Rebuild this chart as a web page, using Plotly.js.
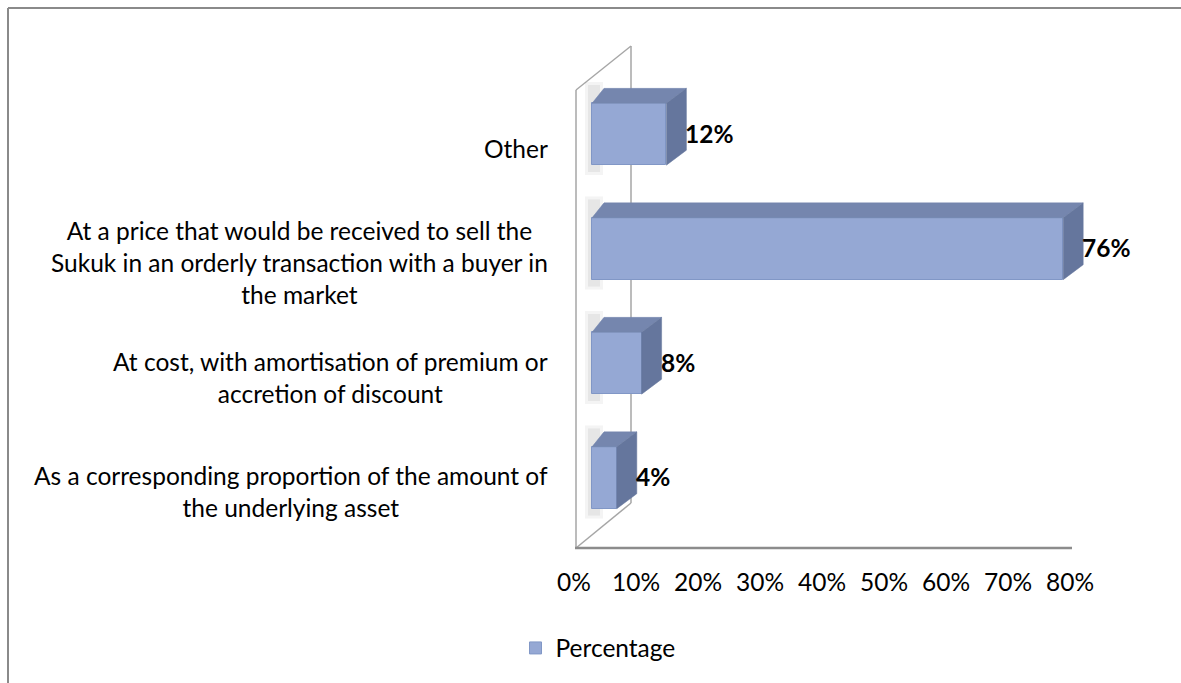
<!DOCTYPE html>
<html>
<head>
<meta charset="utf-8">
<script src="https://cdn.plot.ly/plotly-3.0.1.min.js"></script>
<style>
  html, body { margin: 0; padding: 0; background: #ffffff; }
  #chart { width: 1181px; height: 683px; }
</style>
</head>
<body>
<div id="chart"></div>
<script>
// ---- data (bottom to top, as drawn) ----
const categories = [
  "As a corresponding proportion of the amount of<br>the underlying asset",
  "At cost, with amortisation of premium or<br>accretion of discount",
  "At a price that would be received to sell the<br>Sukuk in an orderly transaction with a buyer in<br>the market",
  "Other"
];
const values = [0.04, 0.08, 0.76, 0.12];
const seriesName = "Percentage";
const xTickVals = [0, 0.1, 0.2, 0.3, 0.4, 0.5, 0.6, 0.7, 0.8];

// ---- geometry helpers ----
const W = 1181, H = 683;
const plotL = 574, plotR = 1110, plotT = 77, plotB = 535;
const pxPerUnitX = 620;            // pixels per 1.0 (100%)
const barZeroPx = 592;             // where the bar front face starts
const pxPerCat = 114.7;
const FONT = "Lato, 'Liberation Sans', sans-serif";
const FS = 24.5;

const px2pX = p => (p - plotL) / (plotR - plotL);
const px2pY = p => (plotB - p) / (plotB - plotT);

const xRangeBars = [-(barZeroPx - plotL) / pxPerUnitX, (plotR - barZeroPx) / pxPerUnitX];
const xRangeTicks = [0, (plotR - plotL) / pxPerUnitX];
const yRangeExact = [-0.5, 3.5];

const yIdx = categories.map((c, i) => i);

const halfH = 0.27;
const dxData = 20 / pxPerUnitX;
const dyData = 15 / pxPerCat;

const frontColor = '#95A8D4';
const topColor = '#7586AE';
const sideColor = '#65769D';

const shapes = [];

// chart outer border (only left and top edges are visible; rest is cut off)
const borderLine = { color: '#8a8a8a', width: 2 };
shapes.push({ type: 'line', xref: 'paper', yref: 'paper',
  x0: px2pX(8), y0: px2pY(8), x1: px2pX(1181), y1: px2pY(8), line: borderLine, layer: 'below' });
shapes.push({ type: 'line', xref: 'paper', yref: 'paper',
  x0: px2pX(8), y0: px2pY(8), x1: px2pX(8), y1: px2pY(683), line: borderLine, layer: 'below' });

// 3D wall (left) and floor front edge
const wallLine = { color: '#a6a6a6', width: 1.5 };
shapes.push({ type: 'line', xref: 'paper', yref: 'paper',
  x0: px2pX(576), y0: px2pY(548), x1: px2pX(576), y1: px2pY(90), line: wallLine, layer: 'below' });
shapes.push({ type: 'line', xref: 'paper', yref: 'paper',
  x0: px2pX(631), y0: px2pY(503), x1: px2pX(631), y1: px2pY(46), line: wallLine, layer: 'below' });
shapes.push({ type: 'line', xref: 'paper', yref: 'paper',
  x0: px2pX(576), y0: px2pY(90), x1: px2pX(631), y1: px2pY(46), line: wallLine, layer: 'below' });
shapes.push({ type: 'line', xref: 'paper', yref: 'paper',
  x0: px2pX(576), y0: px2pY(548), x1: px2pX(631), y1: px2pY(503), line: wallLine, layer: 'below' });
shapes.push({ type: 'line', xref: 'paper', yref: 'paper',
  x0: px2pX(575), y0: px2pY(548), x1: px2pX(1072), y1: px2pY(548),
  line: { color: '#8c8c8c', width: 2.5 }, layer: 'below' });

// soft shadows of bars on the wall, plus 3D top and side faces
values.forEach((v, i) => {
  const yb = i - halfH, yt = i + halfH;
  [[0.10, 0], [0.08, 3]].forEach(([op, grow]) => {
    shapes.push({
      type: 'rect', xref: 'x', yref: 'y', layer: 'below',
      x0: (-4 - grow) / pxPerUnitX, x1: (8 + grow) / pxPerUnitX,
      y0: yb - 0.06 - grow / pxPerCat, y1: yt + dyData + 0.03 + grow / pxPerCat,
      fillcolor: `rgba(110,110,110,${op})`, line: { width: 0 }
    });
  });
  // top face
  shapes.push({
    type: 'path', xref: 'x', yref: 'y', layer: 'above',
    path: `M 0 ${yt} L ${v} ${yt} L ${v + dxData} ${yt + dyData} L ${dxData * 0.6} ${yt + dyData} Z`,
    fillcolor: topColor, line: { color: topColor, width: 0.5 }
  });
  // right side face
  shapes.push({
    type: 'path', xref: 'x', yref: 'y', layer: 'above',
    path: `M ${v} ${yb} L ${v} ${yt} L ${v + dxData} ${yt + dyData} L ${v + dxData} ${yb + dyData} Z`,
    fillcolor: sideColor, line: { color: sideColor, width: 0.5 }
  });
});

// category labels (centered multi-line, right edge near the wall)
const annotations = [];
categories.forEach((c, i) => {
  annotations.push({
    xref: 'paper', yref: 'y', x: px2pX(550), y: i, yshift: -14,
    xanchor: 'right', yanchor: 'middle', align: 'center', showarrow: false,
    text: c, font: { family: FONT, size: FS, color: '#000000' }
  });
});
// data labels
values.forEach((v, i) => {
  annotations.push({
    xref: 'x', yref: 'y', x: v, y: i, xshift: 17, yshift: 1,
    xanchor: 'left', yanchor: 'middle', showarrow: false,
    text: '<b>' + Math.round(v * 100) + '%</b>',
    font: { family: FONT, size: FS, color: '#000000' }
  });
});

const traces = [
  {
    type: 'bar', orientation: 'h', name: seriesName,
    x: values, y: yIdx, width: 2 * halfH,
    marker: { color: frontColor, line: { color: '#8197C6', width: 1 } },
    hoverinfo: 'x+y', xaxis: 'x', yaxis: 'y'
  },
  {
    type: 'scatter', mode: 'markers', x: [0], y: [0],
    marker: { opacity: 0 }, showlegend: false, hoverinfo: 'skip',
    xaxis: 'x2', yaxis: 'y'
  }
];

const layout = {
  width: W, height: H,
  paper_bgcolor: '#ffffff', plot_bgcolor: 'rgba(0,0,0,0)',
  margin: { l: plotL, r: W - plotR, t: plotT, b: H - plotB, pad: 0 },
  font: { family: FONT, size: FS, color: '#000000' },
  xaxis: {
    range: xRangeBars, showgrid: false, zeroline: false, showline: false,
    showticklabels: false, ticks: '', fixedrange: true
  },
  xaxis2: {
    overlaying: 'x', anchor: 'y', side: 'bottom',
    range: xRangeTicks, tickvals: xTickVals, tickformat: '.0%',
    showgrid: false, zeroline: false, showline: false, ticks: '',
    ticklabelstandoff: 30, tickfont: { family: FONT, size: FS, color: '#000000' },
    fixedrange: true
  },
  yaxis: {
    range: yRangeExact, showgrid: false, zeroline: false, showline: false,
    showticklabels: false, ticks: '', fixedrange: true
  },
  bargap: 0,
  showlegend: true,
  legend: {
    orientation: 'h', x: px2pX(598), y: px2pY(648), xanchor: 'center', yanchor: 'middle',
    font: { family: FONT, size: FS, color: '#000000' }, bgcolor: 'rgba(0,0,0,0)',
    itemwidth: 30
  },
  shapes: shapes,
  annotations: annotations
};

Plotly.newPlot('chart', traces, layout, { displayModeBar: false });
</script>
</body>
</html>
